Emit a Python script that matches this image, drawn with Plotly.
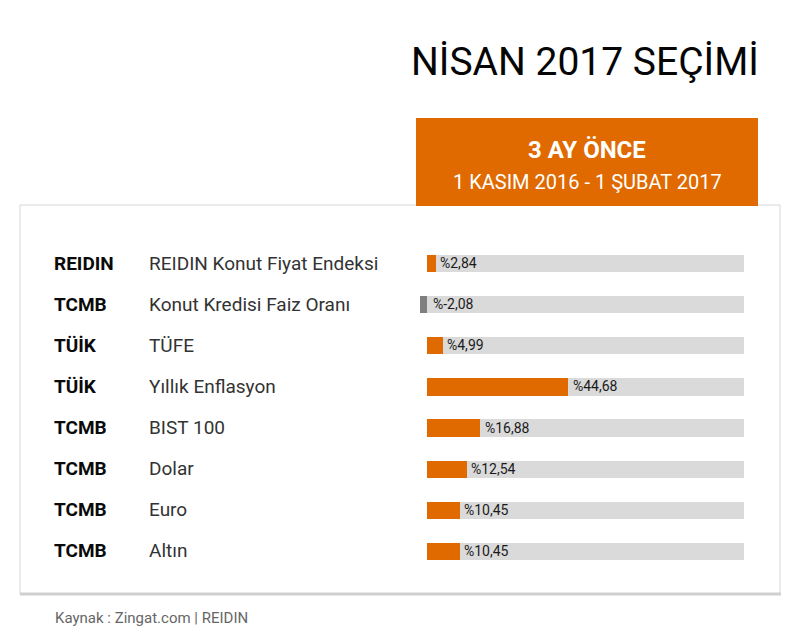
import plotly.graph_objects as go

sources = ["REIDIN", "TCMB", "TÜİK", "TÜİK", "TCMB", "TCMB", "TCMB", "TCMB"]
names = ["REIDIN Konut Fiyat Endeksi", "Konut Kredisi Faiz Oranı", "TÜFE",
         "Yıllık Enflasyon", "BIST 100", "Dolar", "Euro", "Altın"]
values = [2.84, -2.08, 4.99, 44.68, 16.88, 12.54, 10.45, 10.45]
track_max = [100] * len(names)

title = "NİSAN 2017 SEÇİMİ"
box_title = "3 AY ÖNCE"
box_sub = "1 KASIM 2016 - 1 ŞUBAT 2017"
source_note = "Kaynak : Zingat.com | REIDIN"

OFF = 8  # page body margin
W, H = 801 - 2 * OFF, 642 - 2 * OFF
ORANGE = "#E06A00"
FONT = "Roboto"

def px(x):
    return (x - OFF) / W

def py(y):
    return 1 - (y - OFF) / H

bar_colors = [ORANGE if v >= 0 else "#7f7f7f" for v in values]

fig = go.Figure()
fig.add_trace(go.Bar(
    y=names, x=track_max, orientation="h", marker=dict(color="#dadada", line=dict(width=0)),
    width=0.42, hoverinfo="skip", showlegend=False))
fig.add_trace(go.Bar(
    y=names, x=values, orientation="h", marker=dict(color=bar_colors, line=dict(width=0)),
    width=0.42, showlegend=False))

annotations = []
for s, n, v in zip(sources, names, values):
    annotations.append(dict(x=px(52), xref="paper", y=n, yref="y", text=s, showarrow=False,
                            xanchor="left", yanchor="middle",
                            font=dict(family=FONT, size=19, color="#0a0a0a", weight="bold")))
    annotations.append(dict(x=px(146.5), xref="paper", y=n, yref="y", text=n, showarrow=False,
                            xanchor="left", yanchor="middle",
                            font=dict(family=FONT, size=19, color="#333333")))
    label = "%" + f"{v:.2f}".replace(".", ",")
    annotations.append(dict(x=max(v, 0), xref="x", y=n, yref="y", text=label, showarrow=False,
                            xanchor="left", yanchor="middle", xshift=2 if v >= 0 else 4,
                            font=dict(family=FONT, size=14, color="#1a1a1a")))

annotations += [
    dict(x=px(761), y=py(62), xref="paper", yref="paper", text=title, showarrow=False,
         xanchor="right", yanchor="middle",
         font=dict(family=FONT, size=39, color="#050505")),
    dict(x=px(587), y=py(150), xref="paper", yref="paper", text=box_title, showarrow=False,
         xanchor="center", yanchor="middle", font=dict(family=FONT, size=24, color="white", weight="bold")),
    dict(x=px(587), y=py(182), xref="paper", yref="paper", text=box_sub, showarrow=False,
         xanchor="center", yanchor="middle", font=dict(family=FONT, size=20, color="white")),
    dict(x=px(53), y=py(618), xref="paper", yref="paper", text=source_note, showarrow=False,
         xanchor="left", yanchor="middle", font=dict(family=FONT, size=15, color="#666666")),
]

shapes = [
    dict(type="rect", xref="paper", yref="paper", x0=px(20), x1=px(780), y0=py(594), y1=py(205),
         line=dict(color="#d6d6d6", width=1), fillcolor="white", layer="below"),
    dict(type="line", xref="paper", yref="paper", x0=px(20), x1=px(781), y0=py(594), y1=py(594),
         line=dict(color="#cfcfcf", width=3), layer="below"),
    dict(type="rect", xref="paper", yref="paper", x0=px(416), x1=px(758), y0=py(206), y1=py(118),
         line=dict(width=0), fillcolor=ORANGE, layer="below"),
]

x0_px, x100_px = 427, 744
scale = (x100_px - x0_px) / 100.0
xmin = -5
fig.update_layout(
    width=W, height=H, margin=dict(l=0, r=0, t=0, b=0),
    paper_bgcolor="white", plot_bgcolor="rgba(0,0,0,0)",
    barmode="overlay", bargap=0,
    xaxis=dict(range=[xmin, 100], domain=[px(x0_px + xmin * scale), px(x100_px)],
               visible=False, fixedrange=True),
    yaxis=dict(autorange="reversed", domain=[py(571.5), py(242.5)], visible=False,
               fixedrange=True),
    annotations=annotations, shapes=shapes, font=dict(family=FONT),
)

fig.write_html("out.html")
